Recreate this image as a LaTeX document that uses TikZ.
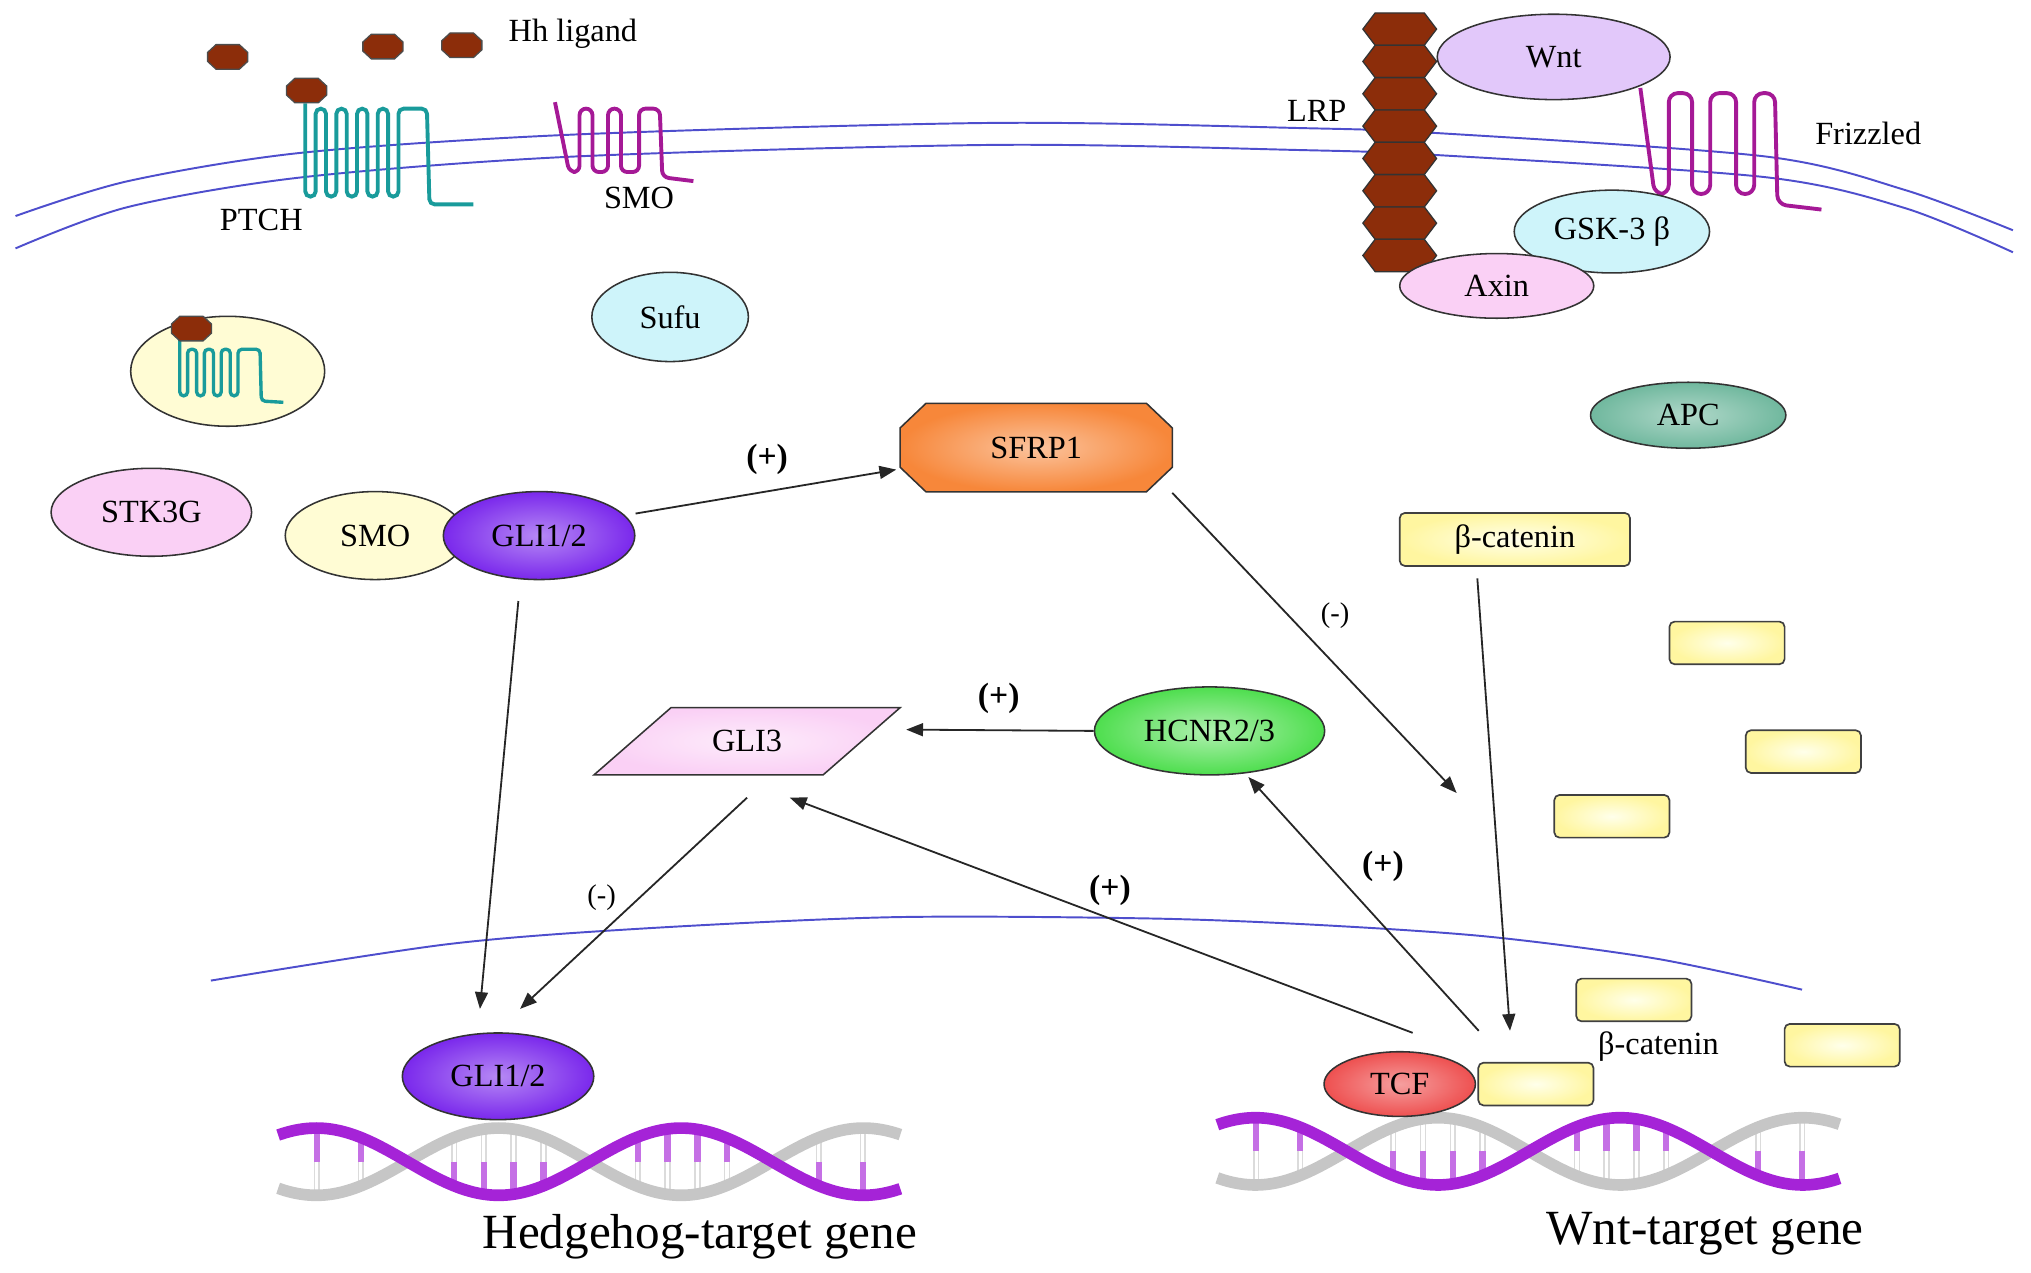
\documentclass[tikz,border=0pt]{standalone}
\usepackage{fontspec}
\setmainfont{Liberation Serif}
\usetikzlibrary{calc}
\usetikzlibrary{positioning}
\usetikzlibrary{shapes.geometric,arrows.meta}

\definecolor{membr}{RGB}{78,78,205}
\definecolor{hhbrown}{RGB}{140,45,10}
\definecolor{ptchc}{RGB}{25,155,155}
\definecolor{smoc}{RGB}{165,25,150}
\definecolor{paleyel}{RGB}{255,252,212}
\definecolor{paleblue}{RGB}{206,244,250}
\definecolor{palepink}{RGB}{250,208,245}
\definecolor{wntc}{RGB}{226,200,250}
\definecolor{apcc}{RGB}{112,184,158}
\definecolor{glic}{RGB}{122,40,236}
\definecolor{sfrpc}{RGB}{247,135,58}
\definecolor{hcnrc}{RGB}{78,222,78}
\definecolor{tcfc}{RGB}{238,80,80}
\definecolor{catc}{RGB}{255,246,160}
\definecolor{dnap}{RGB}{165,35,215}
\definecolor{dnag}{RGB}{198,198,198}

\tikzset{every picture/.style={/utils/exec={\fontsize{25}{30}\selectfont}}}
\tikzset{
  prot/.style={ellipse, draw=black!80, line width=1.2pt, inner sep=0pt},
  lab/.style={inner sep=0pt},
  catbox/.style={rectangle, rounded corners=4pt, draw=black!75, line width=1.3pt, inner color=yellow!8,
    outer color=catc, minimum width=89pt, minimum height=33pt, inner sep=0pt},
  wire/.style={line width=3pt, rounded corners=4pt},
  arr/.style={-{Triangle[length=13pt,width=10pt]}, line width=1.4pt, black!85},
  sign/.style={font=\fontsize{26}{30}\selectfont\bfseries},
  minus/.style={font=\fontsize{22}{26}\selectfont},
  gene/.style={font=\fontsize{38}{44}\selectfont, anchor=base},
  hh/.pic={
    \draw[fill=hhbrown, draw=black!70, line width=1pt] (-15.5,-3.5) -- (-9,-9.5) -- (9,-9.5) -- (15.5,-3.5)
      -- (15.5,3.5) -- (9,9.5) -- (-9,9.5) -- (-15.5,3.5) -- cycle;
  },
  dna/.pic={
    \foreach \r in {-70,-36,36,59,82,105,178,201,224,247,318,352} {
      \draw[line width=5pt, dnap!65] (\r,{26*sin(1.2766*\r)}) -- (\r,0);
      \draw[line width=5pt, black!14] (\r,0) -- (\r,{-26*sin(1.2766*\r)});
      \draw[line width=2.4pt, white] (\r,0) -- (\r,{-24*sin(1.2766*\r)});
    }
    \draw[line width=9pt, dnag] plot[domain=-100:381, samples=90, smooth] (\x,{-26*sin(1.2766*\x)});
    \draw[line width=9pt, dnap] plot[domain=-100:381, samples=90, smooth] (\x,{26*sin(1.2766*\x)});
  }
}

\begin{document}
\begin{tikzpicture}[x=1pt,y=-1pt]
  \useasboundingbox (0,0) rectangle (1570,984);

  % cell and nuclear membranes
  \draw[membr, line width=1.5pt] plot[smooth] coordinates {(12,167) (99,140) (234,118) (444,104) (769,95) (1005,99) (1113,103) (1365,121) (1473,147) (1556,178)};
  \draw[membr, line width=1.5pt] plot[smooth] coordinates {(12,192) (99,160) (234,137) (444,121) (769,112) (1005,116) (1113,120) (1365,137) (1473,161) (1556,195)};
  \draw[membr, line width=1.5pt] plot[smooth] coordinates {(163,758) (345,730) (493,718) (690,709) (889,710) (1019,715) (1150,724) (1280,741) (1393,765)};

  % Hedgehog side of the membrane
  \draw[wire, ptchc] (236,80) foreach \i in {0,...,4} { -- (236+16*\i,152) -- (244+16*\i,152) -- (244+16*\i,84) -- (252+16*\i,84) } -- (330,84) -- (332,158) -- (366,158);
  \draw[wire, smoc, rounded corners=5pt] (429,79) -- (440,133) -- (448,133) -- (448,84) -- (458,84) -- (458,133) -- (470,133) -- (470,84) -- (480,84) -- (480,133) -- (494,133) -- (494,84) -- (510,84) -- (512,137) -- (536,140);

  \pic (hh1) at (176,44) {hh};
  \pic (hh2) at (296,36) {hh};
  \pic (hh3) at (357,35) {hh};
  \pic (hh4) at (237,70) {hh};
  \node[lab, anchor=base west] (hhlab) at (393,32) {Hh ligand};
  \node[lab, anchor=base] (ptchlab) at (202,178) {PTCH};
  \node[lab, anchor=base] (smolab) at (494,161) {SMO};

  % Wnt side of the membrane
  \foreach \k in {0,...,7}
    \draw[fill=hhbrown, draw=black!80, line width=1pt] (1053.5,22.5+25*\k) -- (1063,10+25*\k) -- (1101,10+25*\k) -- (1110.5,22.5+25*\k) -- (1101,35+25*\k) -- (1063,35+25*\k) -- cycle;
  \draw[wire, smoc, rounded corners=7pt] (1268,68) -- (1279,150) -- (1290,150) -- (1290,72) -- (1308,72) -- (1308,150) -- (1322,150) -- (1322,72) -- (1342,72) -- (1342,150) -- (1356,150) -- (1356,72) -- (1372,72) -- (1374,158) -- (1408,162);

  \node[prot, fill=wntc, minimum width=180pt, minimum height=66pt] (wnt) at (1201,44) {Wnt};
  \node[prot, fill=paleblue, minimum width=151pt, minimum height=64pt] (gsk) at (1246,179) {GSK-3 β};
  \node[prot, fill=palepink, minimum width=150pt, minimum height=50pt] (axin) at (1157,221) {Axin};
  \node[lab, anchor=base east] (lrplab) at (1041,94) {LRP};
  \node[lab, anchor=base west] (fzdlab) at (1403,112) {Frizzled};

  % cytoplasm
  \node[prot, fill=paleyel, minimum width=150pt, minimum height=85pt] (vesicle) at (176,287) {};
  \draw[wire, ptchc, line width=2.6pt, rounded corners=3pt] (139,262) foreach \i in {0,...,3} { -- (139+13*\i,306) -- (145+13*\i,306) -- (145+13*\i,270) -- (152+13*\i,270) } -- (201,270) -- (202,310) -- (219,311);
  \pic (hh5) at (148,254) {hh};

  \node[prot, fill=paleblue, minimum width=121pt, minimum height=69pt] (sufu) at (518,245) {Sufu};
  \node[prot, fill=palepink, minimum width=155pt, minimum height=68pt] (stk) at (117,396) {STK3G};
  \node[prot, fill=paleyel, minimum width=139pt, minimum height=68pt] (smo2) at (290,414) {SMO};
  \node[prot, inner color=glic!55!white, outer color=glic, minimum width=148pt, minimum height=68pt, right=-18pt of smo2] (gli1) {GLI1/2};
  \node[prot, inner color=apcc!55!white, outer color=apcc, minimum width=151pt, minimum height=51pt] (apc) at (1305,321) {APC};

  \node[minimum width=210pt, minimum height=68pt] (sfrp1) at (801,346) {};
  \shadedraw[draw=black!80, line width=1.2pt, inner color=sfrpc!50!white, outer color=sfrpc]
    ([xshift=20pt]sfrp1.north west) -- ([xshift=-20pt]sfrp1.north east) -- ([yshift=-19pt]sfrp1.north east)
    -- ([yshift=19pt]sfrp1.south east) -- ([xshift=-20pt]sfrp1.south east) -- ([xshift=20pt]sfrp1.south west)
    -- ([yshift=19pt]sfrp1.south west) -- ([yshift=-19pt]sfrp1.north west) -- cycle;
  \node (sfrplab) at (sfrp1) {SFRP1};

  \node[catbox, minimum width=178pt, minimum height=41pt] (bcat) at (1171,417) {β-catenin};
  \node[prot, inner color=hcnrc!45!white, outer color=hcnrc, minimum width=178pt, minimum height=68pt] (hcnr) at (935,565) {HCNR2/3};
  \node[trapezium, trapezium left angle=43, trapezium right angle=137, trapezium stretches=true, draw=black!80, line width=1.2pt,
    inner color=white!60!palepink, outer color=palepink, minimum width=237pt, minimum height=52pt] (gli3) at (577.5,573) {GLI3};

  \node[catbox] (cat1) at (1335,497) {};
  \node[catbox] (cat2) at (1394,581) {};
  \node[catbox] (cat3) at (1246,631) {};
  \node[catbox] (cat4) at (1263,773) {};
  \node[catbox] (cat5) at (1424,808) {};

  % nucleus
  \pic (dnaL) at (315,898) {dna};
  \pic (dnaR) at (1041,890) {dna};
  \node[prot, inner color=glic!55!white, outer color=glic, minimum width=148pt, minimum height=67pt] (gli1n) at (385,832) {GLI1/2};
  \node[prot, inner color=tcfc!55!white, outer color=tcfc, minimum width=117pt, minimum height=50pt] (tcf) at (1082,838) {TCF};
  \node[catbox, right=1pt of tcf] (cat6) {};
  \node[lab, anchor=base] (catlab) at (1282,815) {β-catenin};

  \node[gene] (hhgene) at (541,965) {Hedgehog-target gene};
  \node[gene] (wntgene) at (1318,962) {Wnt-target gene};

  % arrows
  \coordinate (wntin) at (1126,613);
  \draw[arr] ([shift={(0,-17)}]gli1.east) -- ([shift={(-3,17)}]sfrp1.west);
  \draw[arr] ([shift={(0,35)}]sfrp1.east) -- (wntin);
  \draw[arr] ([shift={(-29,9)}]bcat.south) -- ([shift={(-20,-24)}]cat6.north);
  \draw[arr] ([shift={(1,-24)}]cat6.north west) -- ([shift={(30,1)}]hcnr.south);
  \draw[arr] ([shift={(10,-14)}]tcf.north) -- ([shift={(33,17)}]gli3.south);
  \draw[arr] (hcnr.west) -- ([shift={(123,-9)}]gli3.center);
  \draw[arr] ([shift={(0,17)}]gli3.south) -- ([shift={(17,-18)}]gli1n.north);
  \draw[arr] ([shift={(-16,16)}]gli1.south) -- ([shift={(-14,-18)}]gli1n.north);

  \node[sign] (p1) at (593,355) {(+)};
  \node[sign] (p2) at (772,540) {(+)};
  \node[sign] (p3) at (858,688) {(+)};
  \node[sign] (p4) at (1069,670) {(+)};
  \node[minus] (m1) at (1032,476) {(-)};
  \node[minus] (m2) at (465,694) {(-)};
\end{tikzpicture}
\end{document}
